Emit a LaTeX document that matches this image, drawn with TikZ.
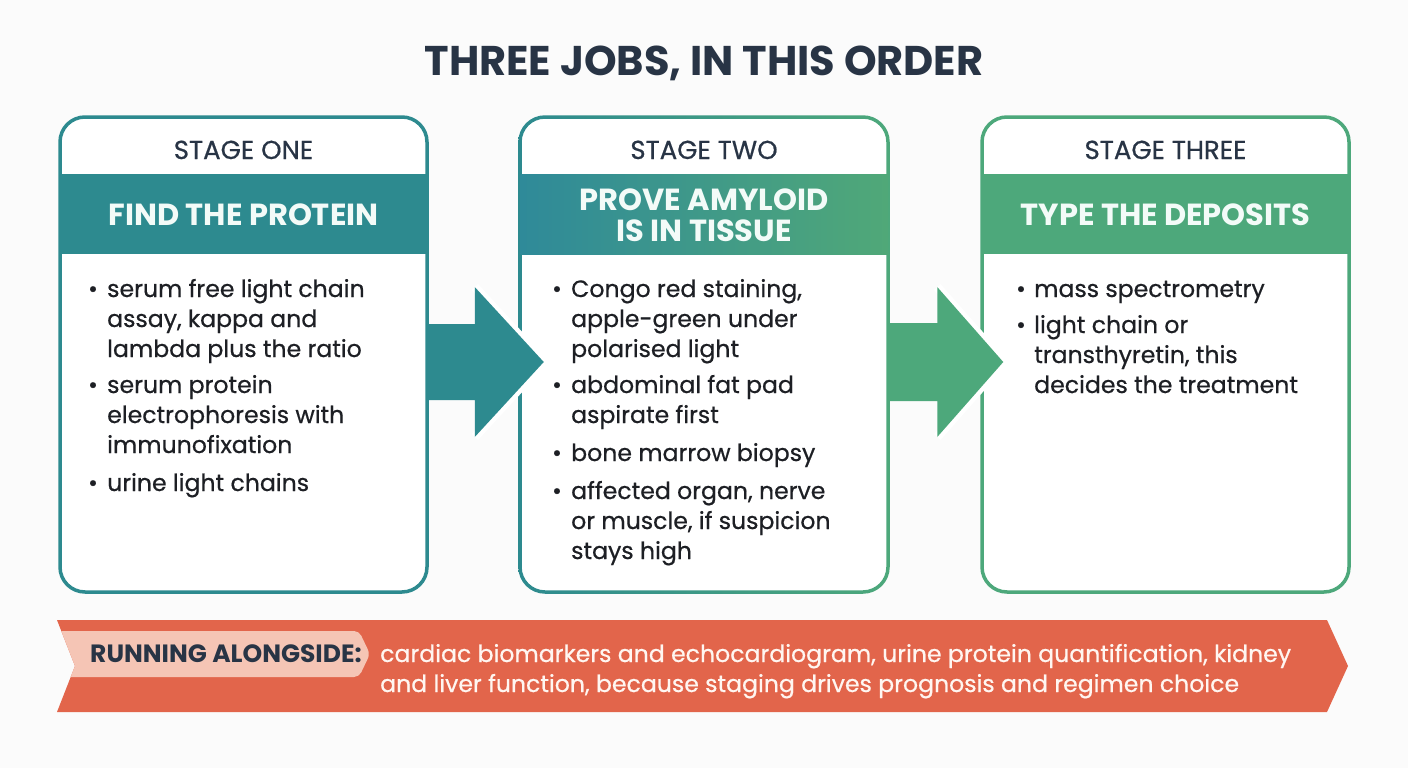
\documentclass[tikz,border=0pt]{standalone}
\usepackage{fontspec}
\setmainfont{Poppins}
\newfontfamily\medfont{Poppins}[FakeBold=0.6]
\usetikzlibrary{calc}
\definecolor{bg}{HTML}{FBFBFB}
\definecolor{navy}{HTML}{283445}
\definecolor{ink}{HTML}{1D1F24}
\definecolor{tealc}{HTML}{2D8A8F}
\definecolor{tealb}{HTML}{2F8A99}
\definecolor{greenc}{HTML}{4DA87B}
\definecolor{greenb}{HTML}{50A878}
\definecolor{coral}{HTML}{E2654B}
\definecolor{pale}{HTML}{F5C5B5}
\definecolor{bannertext}{HTML}{FFF6F1}
\definecolor{bandtext}{HTML}{F3FBF8}
\tikzset{
  body/.style={anchor=base west, inner sep=0pt, text=ink, font=\medfont\fontsize{23.6}{26}\selectfont},
  bul/.style={anchor=base, inner sep=0pt, text=ink, font=\medfont\fontsize{23.6}{26}\selectfont},
  stagelabel/.style={anchor=base, inner sep=0pt, text=navy, font=\medfont\fontsize{26}{29}\selectfont},
  bandlabel/.style={anchor=base, inner sep=0pt, text=bandtext, font=\bfseries\fontsize{30.5}{33}\selectfont},
  bannerline/.style={anchor=base west, inner sep=0pt, text=bannertext, font=\medfont\fontsize{23.6}{26}\selectfont},
  stagebox/.style={rectangle, rounded corners=25pt, line width=3.5pt, fill=white, minimum width=367pt, minimum height=475pt, inner sep=0pt},
  blockarrow/.style={line join=miter},
}
\begin{document}
\begin{tikzpicture}[x=1pt,y=-1pt]
\useasboundingbox (0,0) rectangle (1408,768);
\fill[bg] (0,0) rectangle (1408,768);

% title
\node[anchor=base, inner sep=0pt, text=navy, font=\bfseries\fontsize{41.5}{44}\selectfont] (title) at (704,76) {THREE JOBS, IN THIS ORDER};

% boxes
\node[stagebox, draw=tealc] (box1) at (243.5,354.5) {};
\node[stagebox] (box2) at (704,354.5) {};
\shade[left color=tealc, right color=greenc, even odd rule]
  [rounded corners=26.75pt] (518.25,115.25) rectangle (889.75,593.75)
  [rounded corners=23.25pt] (521.75,118.75) rectangle (886.25,590.25);
\node[stagebox, draw=greenc] (box3) at (1165.5,354.5) {};

% bands
\fill[tealc] ($(box1.west)+(1.75,-180.5)$) rectangle ($(box1.east)+(-1.75,-100.5)$);
\shade[left color=tealb, right color=greenb] ($(box2.west)+(1.75,-180.5)$) rectangle ($(box2.east)+(-1.75,-100.5)$);
\fill[greenc] ($(box3.west)+(1.75,-180.5)$) rectangle ($(box3.east)+(-1.75,-100.5)$);

% stage labels
\node[stagelabel] (s1) at (243.5,159) {STAGE ONE};
\node[stagelabel] (s2) at (704,159) {STAGE TWO};
\node[stagelabel] (s3) at (1165.5,159) {STAGE THREE};

\node[bandlabel] (h1) at (243.5,225) {FIND THE PROTEIN};
\node[bandlabel] (h2a) at (704,210) {PROVE AMYLOID};
\node[bandlabel] (h2b) at (704,241) {IS IN TISSUE};
\node[bandlabel] (h3) at (1165.5,225) {TYPE THE DEPOSITS};

% block arrows
\coordinate (a1) at ($(box1.east)+(-2,7.5)$);
\coordinate (a2) at ($(box2.east)+(-2,7.5)$);
\draw[white, line width=9pt, line join=miter]
  ($(a1)+(48,-75)$) -- ($(a1)+(117,0)$) -- ($(a1)+(48,75)$);
\fill[tealc, blockarrow] ($(a1)+(0,-38)$) -- ($(a1)+(48,-38)$) -- ($(a1)+(48,-75)$) -- ($(a1)+(117,0)$)
  -- ($(a1)+(48,75)$) -- ($(a1)+(48,38)$) -- ($(a1)+(0,38)$) -- cycle;
\draw[white, line width=9pt, line join=miter]
  ($(a2)+(50,-75)$) -- ($(a2)+(116,0)$) -- ($(a2)+(50,75)$);
\fill[greenc, blockarrow] ($(a2)+(0,-39)$) -- ($(a2)+(50,-39)$) -- ($(a2)+(50,-75)$) -- ($(a2)+(116,0)$)
  -- ($(a2)+(50,75)$) -- ($(a2)+(50,39)$) -- ($(a2)+(0,39)$) -- cycle;

% box 1 text
\node[bul] (b1a) at (93,297) {•};
\node[body] (t1a) at (107,297) {serum free light chain};
\node[body] (t1b) at (107,327) {assay, kappa and};
\node[body] (t1c) at (107,357) {lambda plus the ratio};
\node[bul] (b1b) at (93,393) {•};
\node[body] (t1d) at (107,393) {serum protein};
\node[body] (t1e) at (107,423) {electrophoresis with};
\node[body] (t1f) at (107,453) {immunofixation};
\node[bul] (b1c) at (93,491) {•};
\node[body] (t1g) at (107,491) {urine light chains};

% box 2 text
\node[bul] (b2a) at (557,297) {•};
\node[body] (t2a) at (571,297) {Congo red staining,};
\node[body] (t2b) at (571,327) {apple-green under};
\node[body] (t2c) at (571,357) {polarised light};
\node[bul] (b2b) at (557,393) {•};
\node[body] (t2d) at (571,393) {abdominal fat pad};
\node[body] (t2e) at (571,423) {aspirate first};
\node[bul] (b2c) at (557,461) {•};
\node[body] (t2f) at (571,461) {bone marrow biopsy};
\node[bul] (b2d) at (557,499) {•};
\node[body] (t2g) at (571,499) {affected organ, nerve};
\node[body] (t2h) at (571,529) {or muscle, if suspicion};
\node[body] (t2i) at (571,559) {stays high};

% box 3 text
\node[bul] (b3a) at (1021,297) {•};
\node[body] (t3a) at (1034,297) {mass spectrometry};
\node[bul] (b3b) at (1021,333) {•};
\node[body] (t3b) at (1034,333) {light chain or};
\node[body] (t3c) at (1034,363) {transthyretin, this};
\node[body] (t3d) at (1034,393) {decides the treatment};

% bottom banner
\fill[coral] (57,620) -- (1327,620) -- (1348,666) -- (1327,712) -- (57,712) -- (75,666) -- cycle;
\begin{scope}
\clip (57,620) -- (1327,620) -- (1348,666) -- (1327,712) -- (57,712) -- (75,666) -- cycle;
\fill[pale, rounded corners=5pt] (50,631) -- (359,631) -- (370,654) -- (359,677) -- (50,677) -- cycle;
\end{scope}
\node[anchor=base west, inner sep=0pt, text=navy, font=\bfseries\fontsize{25}{28}\selectfont] (run) at (90,662) {RUNNING ALONGSIDE:};
\node[bannerline] (r1) at (380,662) {cardiac biomarkers and echocardiogram, urine protein quantification, kidney};
\node[bannerline] (r2) at (380,692) {and liver function, because staging drives prognosis and regimen choice};
\end{tikzpicture}
\end{document}
